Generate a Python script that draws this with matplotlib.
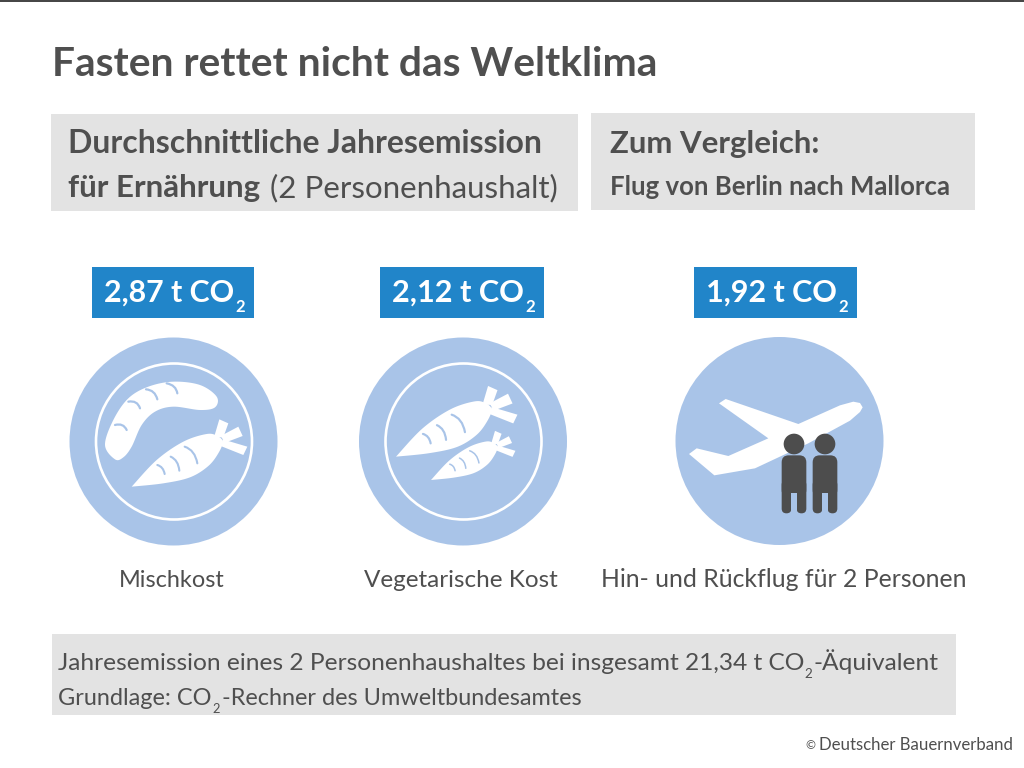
import matplotlib
matplotlib.use("Agg")
import numpy as np
import matplotlib.pyplot as plt
from matplotlib.patches import Rectangle, Circle, Polygon, PathPatch, FancyBboxPatch
from matplotlib.path import Path

# data
title = "Fasten rettet nicht das Weltklima"
emissions = [2.87, 2.12, 1.92]
categories = ["Mischkost", "Vegetarische Kost", "Hin- und Rückflug für 2 Personen"]
total_emission = 21.34

FONT = "Lato"
TEXT = "#4f4f4f"
GREY = "#e3e3e3"
BLUE = "#2185c9"
LIGHT = "#a9c4e8"
DARK = "#4d4d4d"

fig = plt.figure(figsize=(10.24, 7.68), dpi=100)
ax = fig.add_axes([0, 0, 1, 1])
ax.set_xlim(0, 1024)
ax.set_ylim(768, 0)
ax.axis("off")
renderer = fig.canvas.get_renderer()


def box(x0, y0, x1, y1, color):
    ax.add_patch(Rectangle((x0, y0), x1 - x0, y1 - y0, fc=color, ec="none"))


def line(x0, x1, y, parts, color=TEXT, sub_drop=10):
    # parts: (string, weight, is_subscript), whole line is scaled to fit x0..x1
    widths = []
    for s, w, sub in parts:
        t = ax.text(0, 0, s.replace(" ", "\u00a0"), family=FONT, weight=w, fontsize=10 * (0.55 if sub else 1))
        widths.append(t.get_window_extent(renderer).width)
        t.remove()
    gap = 1.5 if len(parts) > 1 else 0
    k = (x1 - x0 - gap * (len(parts) - 1)) / sum(widths)
    x = x0
    for (s, w, sub), wd in zip(parts, widths):
        ax.text(x, y + (sub_drop if sub else 0), s.replace(" ", "\u00a0"), family=FONT, weight=w,
                fontsize=10 * k * (0.55 if sub else 1), color=color, va="baseline", ha="left")
        x += wd * k + gap


def spline(pts, closed=True, n=12):
    # Catmull-Rom through the outline points
    p = np.array(pts, dtype=float)
    if closed:
        p = np.vstack([p[-1], p, p[0], p[1]])
    else:
        p = np.vstack([p[0], p, p[-1]])
    out = []
    for i in range(len(p) - 3):
        for t in np.linspace(0, 1, n, endpoint=False):
            a, b, c, d = p[i:i + 4]
            out.append(0.5 * (2 * b + (c - a) * t + (2 * a - 5 * b + 4 * c - d) * t ** 2 + (3 * b - a - 3 * c + d) * t ** 3))
    return np.array(out)


def arc(a, b, c, color=LIGHT, lw=1.6):
    ax.add_patch(PathPatch(Path([a, b, c], [Path.MOVETO, Path.CURVE3, Path.CURVE3]),
                           fc="none", ec=color, lw=lw, capstyle="round"))


# carrot outline in crop units, used by both plates
CARROT_BODY = [(215, 470), (290, 390), (370, 335), (440, 312), (472, 318), (488, 335), (476, 368), (445, 408), (390, 442), (310, 460), (215, 470)]
CARROT_LEAVES = [
    [(462, 322), (478, 268), (505, 280), (490, 322)],
    [(482, 318), (535, 290), (548, 318), (495, 338)],
    [(488, 328), (562, 350), (550, 375), (482, 348)],
]
CARROT_STRIPES = [
    [(292, 405), (310, 410), (314, 432)],
    [(332, 380), (355, 390), (358, 422)],
    [(374, 350), (405, 360), (412, 400)],
]


def carrot(ox, oy, scale=1.0, dx=0.0, dy=0.0):
    tr = lambda p: (ox + (scale * (p[0] - 215) + 215 + dx) / 3, oy + (scale * (p[1] - 470) + 470 + dy) / 3)
    ax.add_patch(Polygon(spline([tr(p) for p in CARROT_BODY], closed=False), fc="white", ec="none"))
    for leaf in CARROT_LEAVES:
        ax.add_patch(Polygon([tr(p) for p in leaf], fc="white", ec="none"))
    for a, b, c in CARROT_STRIPES:
        arc(tr(a), tr(b), tr(c), lw=1.5 * scale)


def person(ox, oy, cx):
    k = 1 / 3
    ax.add_patch(Circle((ox + k * cx, oy + k * 342), 31 * k, fc=DARK, ec="none"))
    ax.add_patch(FancyBboxPatch((ox + k * (cx - 37), oy + k * 376), 74 * k, 125 * k,
                                boxstyle="round,pad=0,rounding_size=7", fc=DARK, ec="none"))
    for lx in (cx - 37, cx + 8):
        ax.add_patch(FancyBboxPatch((ox + k * lx, oy + k * 450), 29 * k, 100 * k,
                                    boxstyle="round,pad=0,rounding_size=4.8", fc=DARK, ec="none"))
    # gap between the legs
    ax.add_patch(Rectangle((ox + k * (cx - 8), oy + k * 490), 16 * k, 60 * k, fc=LIGHT, ec="none"))


# top rule
ax.plot([0, 1024], [0.5, 0.5], color="#222222", lw=1.2)

# title
line(52, 658, 76, [(title, "bold", False)])

# header boxes
box(51, 114, 578, 211, GREY)
box(591, 113, 975, 210, GREY)
line(68, 543, 153, [("Durchschnittliche Jahresemission", "bold", False)])
line(68, 558, 197, [("für Ernährung ", "bold", False), ("(2 Personenhaushalt)", "normal", False)])
line(610, 820, 153, [("Zum Vergleich:", "bold", False)])
line(610, 950, 195, [("Flug von Berlin nach Mallorca", "bold", False)])

# value badges
badge_x = [(92, 254), (380, 544), (694, 857)]
for (x0, x1), val in zip(badge_x, emissions):
    box(x0, 267, x1, 318, BLUE)
    label = f"{val:.2f}".replace(".", ",") + " t CO"
    line(x0 + 12, x1 - 9, 302, [(label, "bold", False), ("2", "bold", True)], color="white", sub_drop=10)

# plates
centers = [(173.5, 441.5), (463, 441.5), (779.5, 441)]
for i, (cx, cy) in enumerate(centers):
    ax.add_patch(Circle((cx, cy), 104, fc=LIGHT, ec="none"))
    if i < 2:
        ax.add_patch(Circle((cx + 0.5, cy), 78, fc="none", ec="white", lw=1.9))

# sausage + carrot
ox, oy = 60, 330
sausage = [(165, 388), (135, 345), (160, 270), (205, 205), (265, 170), (340, 155), (420, 165), (470, 200),
           (465, 232), (420, 240), (340, 230), (285, 245), (245, 285), (215, 350), (190, 382)]
ax.add_patch(Polygon(spline([(ox + x / 3, oy + y / 3) for x, y in sausage]), fc="white", ec="none"))
for a, b, c in [((165, 285), (190, 278), (200, 300)), ((205, 215), (232, 210), (240, 235)),
                ((258, 178), (285, 180), (292, 208)), ((320, 160), (348, 165), (352, 190))]:
    arc((ox + a[0] / 3, oy + a[1] / 3), (ox + b[0] / 3, oy + b[1] / 3), (ox + c[0] / 3, oy + c[1] / 3))
carrot(ox, oy)

# two carrots
ox, oy = 350, 330
carrot(ox, oy, 1.05, -77, -90)
carrot(ox, oy, 0.73, 28, -20)

# plane + people
ox, oy = 665, 330
plane = [(593, 232), (585, 219), (565, 215), (525, 226), (400, 282), (182, 207), (162, 220), (310, 325), (190, 378),
         (95, 355), (72, 372), (148, 436), (270, 415), (430, 340), (555, 272), (585, 246)]
ax.add_patch(Polygon([(ox + x / 3, oy + y / 3) for x, y in plane], fc="white", ec="none"))
person(ox, oy, 387)
person(ox, oy, 480)

# captions
caption_x = [(119, 225), (364, 558), (601, 965)]
for (x0, x1), cat in zip(caption_x, categories):
    line(x0, x1, 587, [(cat, "normal", False)])

# footer
box(52, 634, 956, 715, GREY)
total = f"{total_emission:.2f}".replace(".", ",")
line(58, 938, 670, [(f"Jahresemission eines 2 Personenhaushaltes bei insgesamt {total} t CO", "normal", False),
                    ("2", "normal", True), ("-Äquivalent", "normal", False)], sub_drop=8)
line(58, 583, 705, [("Grundlage: CO", "normal", False), ("2", "normal", True),
                    ("-Rechner des Umweltbundesamtes", "normal", False)], sub_drop=8)
line(805, 815, 749, [("©", "normal", False)])
line(819, 1013, 750, [("Deutscher Bauernverband", "normal", False)])

fig.savefig("out.png", dpi=100)
